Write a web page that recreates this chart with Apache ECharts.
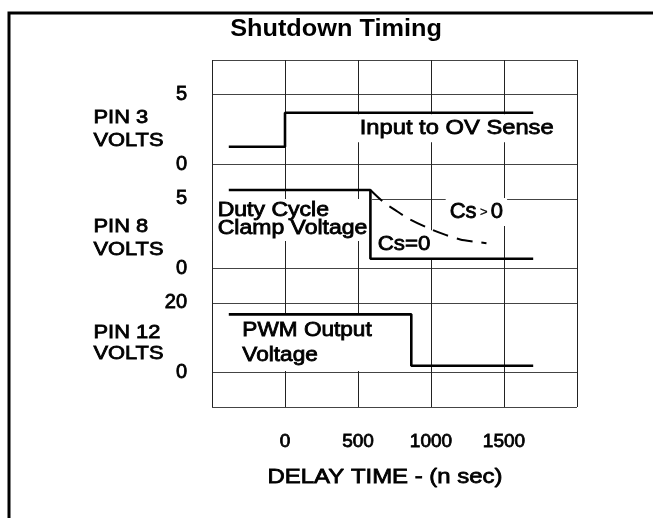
<!DOCTYPE html>
<html><head><meta charset="utf-8">
<script src="https://cdn.jsdelivr.net/npm/echarts@6/dist/echarts.min.js"></script>
<style>html,body{margin:0;padding:0;background:#fff;}#c{width:653px;height:518px;}</style>
</head><body><div id="c"></div>
<script>
// ---- data (time in ns, values in volts of each pin's panel) ----
const timeTicks = [0, 500, 1000, 1500];
const pin3Time = [-385, 0, 0, 1700];
const pin3Volts = [1.25, 1.25, 3.7, 3.7];
const pin8Time = [-385, 585, 585, 1700];
const pin8Volts = [5.63, 5.63, 0.68, 0.68];
const pin8CsTime = [585, 670, 750, 850, 1000, 1100, 1200, 1300, 1380];
const pin8CsVolts = [5.63, 4.8, 4.22, 3.55, 2.8, 2.4, 2.07, 1.91, 1.8];
const pin12Time = [-385, 865, 865, 1700];
const pin12Volts = [16.7, 16.7, 1.9, 1.9];
const pin3Ticks = [0, 5];
const pin8Ticks = [0, 5];
const pin12Ticks = [0, 20];

// ---- panel layout on a shared 0..10 unit axis ----
const panels = {pin3: {base: 7, full: 5}, pin8: {base: 4, full: 5}, pin12: {base: 1, full: 20}};
const SPAN = 2;
function u(p, v) { return panels[p].base + v / panels[p].full * SPAN; }
function pts(p, ts, vs) { return ts.map((t, i) => [t, u(p, vs[i])]); }
const yLabelMap = {};
[['pin3', pin3Ticks], ['pin8', pin8Ticks], ['pin12', pin12Ticks]].forEach(([p, ticks]) =>
  ticks.forEach(v => { yLabelMap[Math.round(u(p, v) * 1000) / 1000] = String(v); }));

const FONT = '"Liberation Sans", Arial, Helvetica, sans-serif';
const chart = echarts.init(document.getElementById('c'), null, {renderer: 'canvas'});
const solid = {color: '#000', width: 2.6};
const EMB = 0.8; // stroke to give the heavier look of the scanned text

chart.setOption({
  animation: false,
  backgroundColor: '#fff',
  grid: {left: 212, top: 60, width: 365, height: 347, show: false, outerBoundsMode: 'none'},
  xAxis: {
    type: 'value', min: -500, max: 2000, interval: 500,
    axisLine: {show: false}, axisTick: {show: false},
    axisLabel: {margin: 25, fontSize: 19, color: '#000', fontFamily: FONT,
      textBorderColor: '#000', textBorderWidth: EMB,
      formatter: v => timeTicks.includes(v) ? String(v) : ''},
    splitLine: {show: true, lineStyle: {color: '#222', width: 1}}
  },
  yAxis: {
    type: 'value', min: 0, max: 10, interval: 1,
    axisLine: {show: false}, axisTick: {show: false},
    axisLabel: {margin: 25, fontSize: 20, color: '#000', fontFamily: FONT,
      textBorderColor: '#000', textBorderWidth: EMB,
      formatter: v => yLabelMap[Math.round(v * 1000) / 1000] || ''},
    splitLine: {show: true, lineStyle: {color: ['#444', '#444', 'rgba(0,0,0,0)'], width: 1.2}}
  },
  series: [
    {type: 'line', z: 3, symbol: 'none', data: pts('pin3', pin3Time, pin3Volts), lineStyle: solid},
    {type: 'line', z: 3, symbol: 'none', data: pts('pin8', pin8Time, pin8Volts), lineStyle: solid},
    {type: 'line', z: 3, symbol: 'none', smooth: 0.3, data: pts('pin8', pin8CsTime, pin8CsVolts),
      lineStyle: {color: '#000', width: 2, type: [16, 9]}},
    {type: 'line', z: 3, symbol: 'none', data: pts('pin12', pin12Time, pin12Volts), lineStyle: solid}
  ]
});

// ---- annotations, anchored in data coordinates (left edge, first-line cap centre) ----
const notes = [
  {text: 'Input to OV Sense', p: 'pin3', t: 512, v: 2.59, size: 21, sx: 1.13, lh: 22},
  {text: 'Duty Cycle\nClamp Voltage', p: 'pin8', t: -461, v: 4.13, size: 19.5, sx: 1.18, lh: 18},
  {text: 'Cs=0', p: 'pin8', t: 635, v: 1.73, size: 21, sx: 1.06, lh: 22},
  {text: 'PWM Output\nVoltage', p: 'pin12', t: -292, v: 12.05, size: 20, sx: 1.13, lh: 25}
];
const PADV = 3, PADH = 4;
const graphics = [];
function txtStyle(extra) {
  return Object.assign({fill: '#000', stroke: '#000', lineWidth: EMB}, extra);
}
// outer frame
graphics.push({type: 'rect', z: 5, shape: {x: 9, y: 13, width: 700, height: 600},
  style: {fill: 'none', stroke: '#000', lineWidth: 3}});
// title
graphics.push({type: 'text', z: 5, x: 336, y: 30, scaleX: 1.1,
  style: {text: 'Shutdown Timing', font: 'bold 23px ' + FONT, fill: '#000',
    align: 'center', verticalAlign: 'middle', textAlign: 'center', textVerticalAlign: 'middle'}});
// pin labels
[[117.5, 'PIN 3', 22.8], [226.5, 'PIN 8', 22.8], [333, 'PIN 12', 21.2]].forEach(([c, name, lh]) => {
  graphics.push({type: 'text', z: 5, x: 93.5, y: c - lh / 2, scaleX: 1.15,
    style: txtStyle({text: name + '\nVOLTS', font: '19px ' + FONT, lineHeight: lh,
      align: 'left', verticalAlign: 'top', textAlign: 'left', textVerticalAlign: 'top'})});
});
// x axis name
graphics.push({type: 'text', z: 5, x: 385, y: 477, scaleX: 1.14,
  style: txtStyle({text: 'DELAY TIME - (n sec)', font: '21px ' + FONT,
    align: 'center', verticalAlign: 'middle', textAlign: 'center', textVerticalAlign: 'middle'})});
notes.forEach(n => {
  const [px, py] = chart.convertToPixel({gridIndex: 0}, [n.t, u(n.p, n.v)]);
  graphics.push({type: 'text', z: 1, x: px - PADH * n.sx, y: py - n.lh / 2 - PADV, scaleX: n.sx,
    style: txtStyle({text: n.text, font: n.size + 'px ' + FONT, lineHeight: n.lh,
      backgroundColor: '#fff', padding: [PADV, PADH],
      align: 'left', verticalAlign: 'top', textAlign: 'left', textVerticalAlign: 'top'})});
});
// "Cs > 0"
{
  const [px, py] = chart.convertToPixel({gridIndex: 0}, [1128, u('pin8', 4.05)]);
  graphics.push({type: 'text', z: 1, x: px - PADH, y: py - 11 - PADV,
    style: txtStyle({text: '{a|Cs} {b|>} {a|0}', backgroundColor: '#fff', padding: [PADV, PADH],
      align: 'left', verticalAlign: 'top', textAlign: 'left', textVerticalAlign: 'top',
      rich: {a: {fontSize: 22, fontFamily: FONT, lineHeight: 22, fill: '#000', stroke: '#000', lineWidth: EMB},
             b: {fontSize: 13, fontFamily: FONT, lineHeight: 22, fill: '#000', stroke: '#000', lineWidth: 0.3}}})});
}
chart.setOption({graphic: {elements: graphics}});
</script></body></html>
